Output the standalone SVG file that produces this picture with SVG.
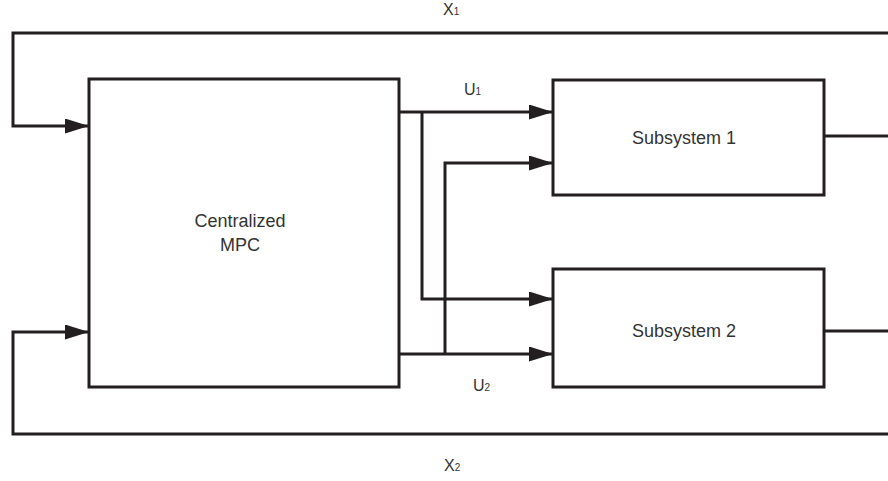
<svg xmlns="http://www.w3.org/2000/svg" width="888" height="481" viewBox="0 0 888 481">
<defs>
<style>
.box{fill:#fff;stroke:#231f20;stroke-width:3}
.ln{fill:none;stroke:#231f20;stroke-width:3;stroke-linejoin:miter}
.t{font-family:"Liberation Sans",Arial,sans-serif;font-size:18px;fill:#333}
.l{font-family:"Liberation Sans",Arial,sans-serif;font-size:16px;fill:#333}
.s{font-size:10px}
</style>
<marker id="ar" markerUnits="userSpaceOnUse" markerWidth="24" markerHeight="16" refX="24" refY="7.5" orient="auto">
<path d="M0,0 L24,7.5 L0,15 z" fill="#231f20"/>
</marker>
</defs>
<g id="connectors">
<path class="ln" d="M888,33 H13 V126 H89" marker-end="url(#ar)"/>
<path class="ln" d="M888,434 H13 V332 H89" marker-end="url(#ar)"/>
<path class="ln" d="M399,112 H553" marker-end="url(#ar)"/>
<path class="ln" d="M422,112 V299 H553" marker-end="url(#ar)"/>
<path class="ln" d="M399,354 H553" marker-end="url(#ar)"/>
<path class="ln" d="M445,354 V163 H553" marker-end="url(#ar)"/>
<path class="ln" d="M824,136 H888"/>
<path class="ln" d="M824,331 H888"/>
</g>
<g id="mpc">
<rect class="box" x="89" y="79" width="310" height="308"/>
<text class="t" x="240" y="227" text-anchor="middle">Centralized</text>
<text class="t" x="240" y="251" text-anchor="middle">MPC</text>
</g>
<g id="sub1">
<rect class="box" x="553" y="80" width="271" height="115"/>
<text class="t" x="684" y="144" text-anchor="middle">Subsystem 1</text>
</g>
<g id="sub2">
<rect class="box" x="553" y="269" width="271" height="118"/>
<text class="t" x="684" y="337" text-anchor="middle">Subsystem 2</text>
</g>
<g id="labels">
<text class="l" x="443" y="15">X<tspan class="s">1</tspan></text>
<text class="l" x="464" y="95">U<tspan class="s">1</tspan></text>
<text class="l" x="473" y="391">U<tspan class="s">2</tspan></text>
<text class="l" x="444" y="471">X<tspan class="s">2</tspan></text>
</g>
</svg>
